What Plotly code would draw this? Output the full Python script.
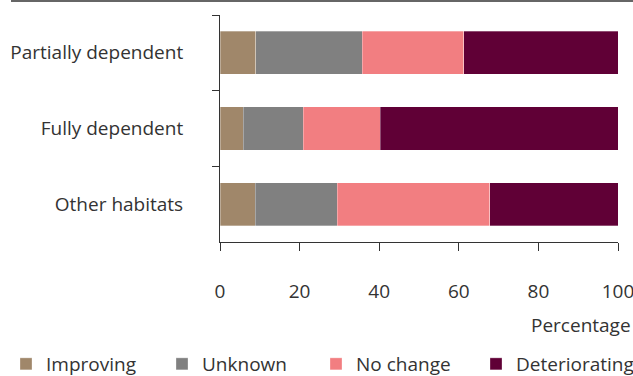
import plotly.graph_objects as go

categories = ["Partially dependent", "Fully dependent", "Other habitats"]
improving = [9.0, 5.9, 8.9]
unknown = [26.7, 15.0, 20.6]
no_change = [25.5, 19.4, 38.3]
deteriorating = [38.8, 59.7, 32.2]
series_names = ["Improving", "Unknown", "No change", "Deteriorating"]
colors = ["#a0876a", "#808080", "#f27e81", "#600036"]
x_ticks = [0, 20, 40, 60, 80, 100]

FONT = "Open Sans"
TXT = "#333333"
FS = 19

W, H = 633, 376
L, R, T, B = 220, 15, 15, 134
pw = W - L - R
ph = H - T - B
plot_bottom = T + ph

fig = go.Figure()
legend_x_px = [16, 172, 326, 486]
for i, (name, vals, col) in enumerate(zip(series_names, [improving, unknown, no_change, deteriorating], colors)):
    lg = "legend" if i == 0 else f"legend{i+1}"
    fig.add_trace(go.Bar(
        y=categories, x=vals, name=name, orientation="h",
        marker=dict(color=col, line=dict(color="rgba(255,255,255,0.6)", width=0.5)),
        legend=lg, showlegend=True,
    ))

layout_legends = {}
for i, px in enumerate(legend_x_px):
    key = "legend" if i == 0 else f"legend{i+1}"
    layout_legends[key] = dict(
        xref="container", yref="container",
        x=(px - 10) / W, xanchor="left",
        y=(H - 364) / H, yanchor="middle",
        orientation="h", bgcolor="rgba(0,0,0,0)",
        font=dict(family=FONT, size=FS, color=TXT),
        itemwidth=30,
    )

fig.update_layout(
    width=W, height=H,
    margin=dict(l=L, r=R, t=T, b=B, pad=0, autoexpand=False),
    paper_bgcolor="white", plot_bgcolor="white",
    barmode="stack", bargap=0.43,
    font=dict(family=FONT, size=FS, color=TXT),
    **layout_legends,
    xaxis=dict(
        range=[0, 100], tickvals=x_ticks, ticks="outside", ticklen=8,
        tickcolor="#333333", showline=True, linecolor="#333333", linewidth=1,
        showgrid=False, zeroline=False, ticklabelstandoff=24, automargin=False,
        ticklabeloverflow="allow",
        tickfont=dict(family=FONT, size=FS, color=TXT),
    ),
    yaxis=dict(
        type="category", categoryorder="array", categoryarray=categories,
        autorange="reversed", tickson="boundaries", ticks="outside", ticklen=7,
        tickcolor="#333333", showline=True, linecolor="#333333", linewidth=1,
        showgrid=False, ticklabelstandoff=32, automargin=False,
        ticklabeloverflow="allow",
        tickfont=dict(family=FONT, size=FS, color=TXT),
    ),
    annotations=[dict(
        text="Percentage", xref="paper", yref="paper",
        x=(633 - L) / pw, xanchor="right", y=(plot_bottom - 325) / ph, yanchor="middle",
        showarrow=False, font=dict(family=FONT, size=FS, color=TXT),
    )],
    shapes=[dict(
        type="line", xref="paper", yref="paper",
        x0=(11 - L) / pw, x1=(633 - L) / pw, y0=(plot_bottom - 1) / ph, y1=(plot_bottom - 1) / ph,
        line=dict(color="#333333", width=1.5),
    )],
)

fig.write_html(
    "out.html",
    config={"displayModeBar": False},
    post_script="document.body.style.margin='0';document.body.style.overflow='hidden';",
)
